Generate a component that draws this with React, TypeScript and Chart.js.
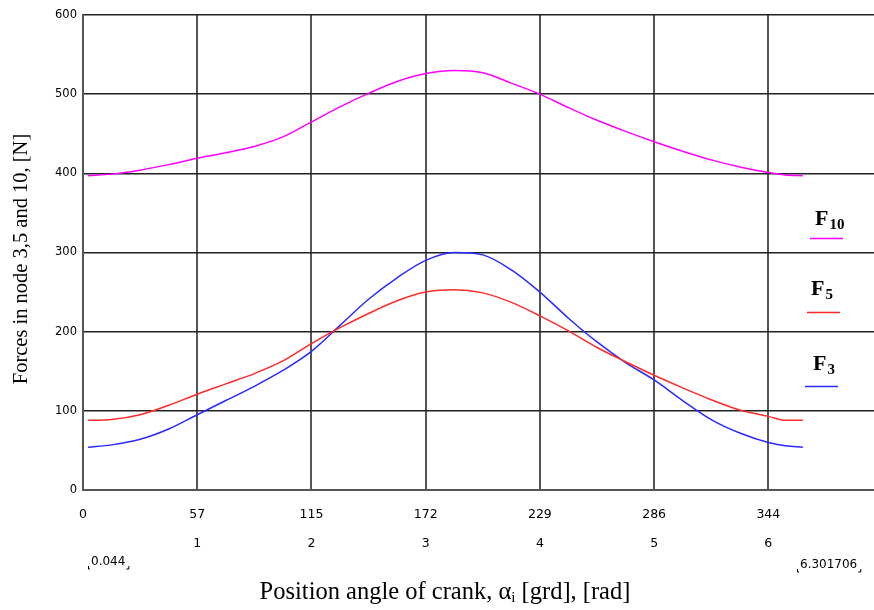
import React, { useEffect, useRef } from "react";
import { Chart, registerables } from "chart.js";

Chart.register(...registerables);

// crank position angle, radians (sample points)
const angleRad = [0.044, 0.25, 0.5, 0.75, 1.0, 1.25, 1.5, 1.75, 2.0, 2.25, 2.5, 2.75, 3.0, 3.25, 3.5, 3.75, 4.0, 4.25, 4.5, 4.75, 5.0, 5.25, 5.5, 5.75, 6.0, 6.15, 6.301706];
// forces [N]
const f10 = [397, 399, 404, 411, 419, 426, 434, 446, 465, 484, 501, 516, 526, 530, 527, 514, 500, 483, 467, 453, 440, 428, 417, 408, 401, 398, 397];
const f5 = [88, 89, 95, 107, 121, 134, 147, 163, 185, 205, 223, 239, 250, 253, 249, 237, 220, 201, 180, 162, 145, 129, 114, 101, 93, 88, 88];
const f3 = [54, 57, 64, 77, 95, 113, 131, 151, 175, 208, 241, 268, 290, 300, 297, 278, 250, 217, 187, 161, 139, 113, 89, 72, 60, 56, 54];

const radTicks = [0, 1, 2, 3, 4, 5, 6];
const yMin = 0;
const yMax = 600;
const yStep = 100;
const xMax = 6.925;

const rangeStart = "0.044";
const rangeEnd = "6.301706";
const yTitle = "Forces in node 3,5 and 10, [N]";
const xTitleA = "Position angle of crank, \u03B1";
const xTitleSub = "i";
const xTitleB = " [grd], [rad]";

const seriesNames = ["F10", "F5", "F3"];
const legendBase = ["F", "F", "F"];
const legendSub = ["10", "5", "3"];
const seriesColors = ["#ff00ff", "#ff2a2a", "#2a2aff"];

const overlayPlugin = {
  id: "overlay",
  afterDraw(chart: any) {
    const ctx = chart.ctx as CanvasRenderingContext2D;
    ctx.save();
    ctx.fillStyle = "#000";

    // Y title
    ctx.save();
    ctx.translate(22, 259);
    ctx.rotate(-Math.PI / 2);
    ctx.font = "20.5px 'Liberation Serif'";
    ctx.textAlign = "center";
    ctx.textBaseline = "middle";
    ctx.fillText(yTitle, 0, 0);
    ctx.restore();

    // X title
    const big = "24.5px 'Liberation Serif'";
    const small = "15px 'Liberation Serif'";
    ctx.font = big;
    ctx.textBaseline = "middle";
    ctx.textAlign = "left";
    const wA = ctx.measureText(xTitleA).width;
    ctx.font = small;
    const wS = ctx.measureText(xTitleSub).width;
    ctx.font = big;
    const wB = ctx.measureText(xTitleB).width;
    const total = wA + wS + wB;
    const x0 = 445 - total / 2;
    const yT = 593;
    ctx.fillText(xTitleA, x0, yT);
    ctx.font = small;
    ctx.fillText(xTitleSub, x0 + wA, yT + 5);
    ctx.font = big;
    ctx.fillText(xTitleB, x0 + wA + wS, yT);

    // range labels
    ctx.font = "12px 'DejaVu Sans'";
    ctx.textAlign = "left";
    ctx.fillText(rangeStart, 91, 562);
    const wr = ctx.measureText(rangeEnd).width;
    ctx.fillText(rangeEnd, 800, 565);
    ctx.strokeStyle = "#000";
    ctx.lineWidth = 1;
    const w0 = ctx.measureText(rangeStart).width;
    ctx.beginPath();
    ctx.moveTo(88.5, 566); ctx.lineTo(88.5, 569); ctx.lineTo(90, 569);
    ctx.moveTo(91 + w0 + 1, 569); ctx.lineTo(91 + w0 + 3.5, 569); ctx.lineTo(91 + w0 + 3.5, 566);
    ctx.moveTo(797.5, 569); ctx.lineTo(797.5, 572); ctx.lineTo(799, 572);
    ctx.moveTo(800 + wr + 1, 572); ctx.lineTo(800 + wr + 3.5, 572); ctx.lineTo(800 + wr + 3.5, 569);
    ctx.stroke();

    // legend
    const legendPos = [
      { x: 815, y: 219, lx1: 810, lx2: 843, ly: 238.5 },
      { x: 811, y: 289, lx1: 807, lx2: 840, ly: 312.5 },
      { x: 813, y: 364, lx1: 805, lx2: 838, ly: 386.5 },
    ];
    for (let i = 0; i < seriesNames.length; i++) {
      const p = legendPos[i];
      ctx.fillStyle = "#000";
      ctx.font = "bold 22px 'Liberation Serif'";
      ctx.textAlign = "left";
      ctx.textBaseline = "middle";
      ctx.fillText(legendBase[i], p.x, p.y);
      const wf = ctx.measureText(legendBase[i]).width;
      ctx.font = "bold 15px 'Liberation Serif'";
      ctx.fillText(legendSub[i], p.x + wf + 1, p.y + 6);
      ctx.strokeStyle = seriesColors[i];
      ctx.lineWidth = 1.5;
      ctx.beginPath();
      ctx.moveTo(p.lx1, p.ly);
      ctx.lineTo(p.lx2, p.ly);
      ctx.stroke();
    }
    ctx.restore();
  },
};

export default function App() {
  const ref = useRef<HTMLCanvasElement | null>(null);

  useEffect(() => {
    if (!ref.current) return;
    const mk = (vals: number[]) => angleRad.map((x, i) => ({ x, y: vals[i] }));
    const datasets = [f10, f5, f3].map((vals, i) => ({
      label: seriesNames[i],
      data: mk(vals),
      borderColor: seriesColors[i],
      backgroundColor: seriesColors[i],
      borderWidth: 1.5,
      pointRadius: 0,
      cubicInterpolationMode: "monotone" as const,
      fill: false,
    }));
    const chart = new Chart(ref.current, {
      type: "line",
      data: { datasets },
      plugins: [overlayPlugin],
      options: {
        animation: false,
        responsive: false,
        devicePixelRatio: 1,
        layout: { padding: { top: 15, right: 0, left: 0, bottom: 0 } },
        plugins: { legend: { display: false }, tooltip: { enabled: false }, title: { display: false } },
        scales: {
          x: {
            type: "linear",
            min: 0,
            max: xMax,
            afterBuildTicks: (scale: any) => {
              scale.ticks = radTicks.map((v) => ({ value: v }));
            },
            afterFit: (scale: any) => {
              scale.height = 120;
            },
            grid: { color: "#555", lineWidth: 2, drawTicks: false },
            border: { display: true, color: "#555", width: 2 },
            ticks: {
              autoSkip: false,
              maxRotation: 0,
              color: "#000",
              padding: 10,
              font: { family: "'DejaVu Sans'", size: 12.5, lineHeight: 29 / 12.5 },
              callback: (v: any) => {
                const n = Number(v);
                return [String(Math.round((n * 180) / Math.PI)), n === 0 ? "" : String(n)];
              },
            },
          },
          y: {
            min: yMin,
            max: yMax,
            afterFit: (scale: any) => {
              scale.width = 83;
            },
            grid: { color: "#222", lineWidth: 1.5, drawTicks: false },
            border: { display: true, color: "#555", width: 2 },
            ticks: {
              stepSize: yStep,
              color: "#000",
              padding: 6,
              font: { family: "'DejaVu Sans'", size: 11.5 },
            },
          },
        },
      },
    });
    return () => chart.destroy();
  }, []);

  return (
    <div style={{ position: "absolute", left: 0, top: 0, width: 874, height: 610, background: "#fff" }}>
      <canvas ref={ref} width={874} height={610} style={{ display: "block" }} />
    </div>
  );
}
